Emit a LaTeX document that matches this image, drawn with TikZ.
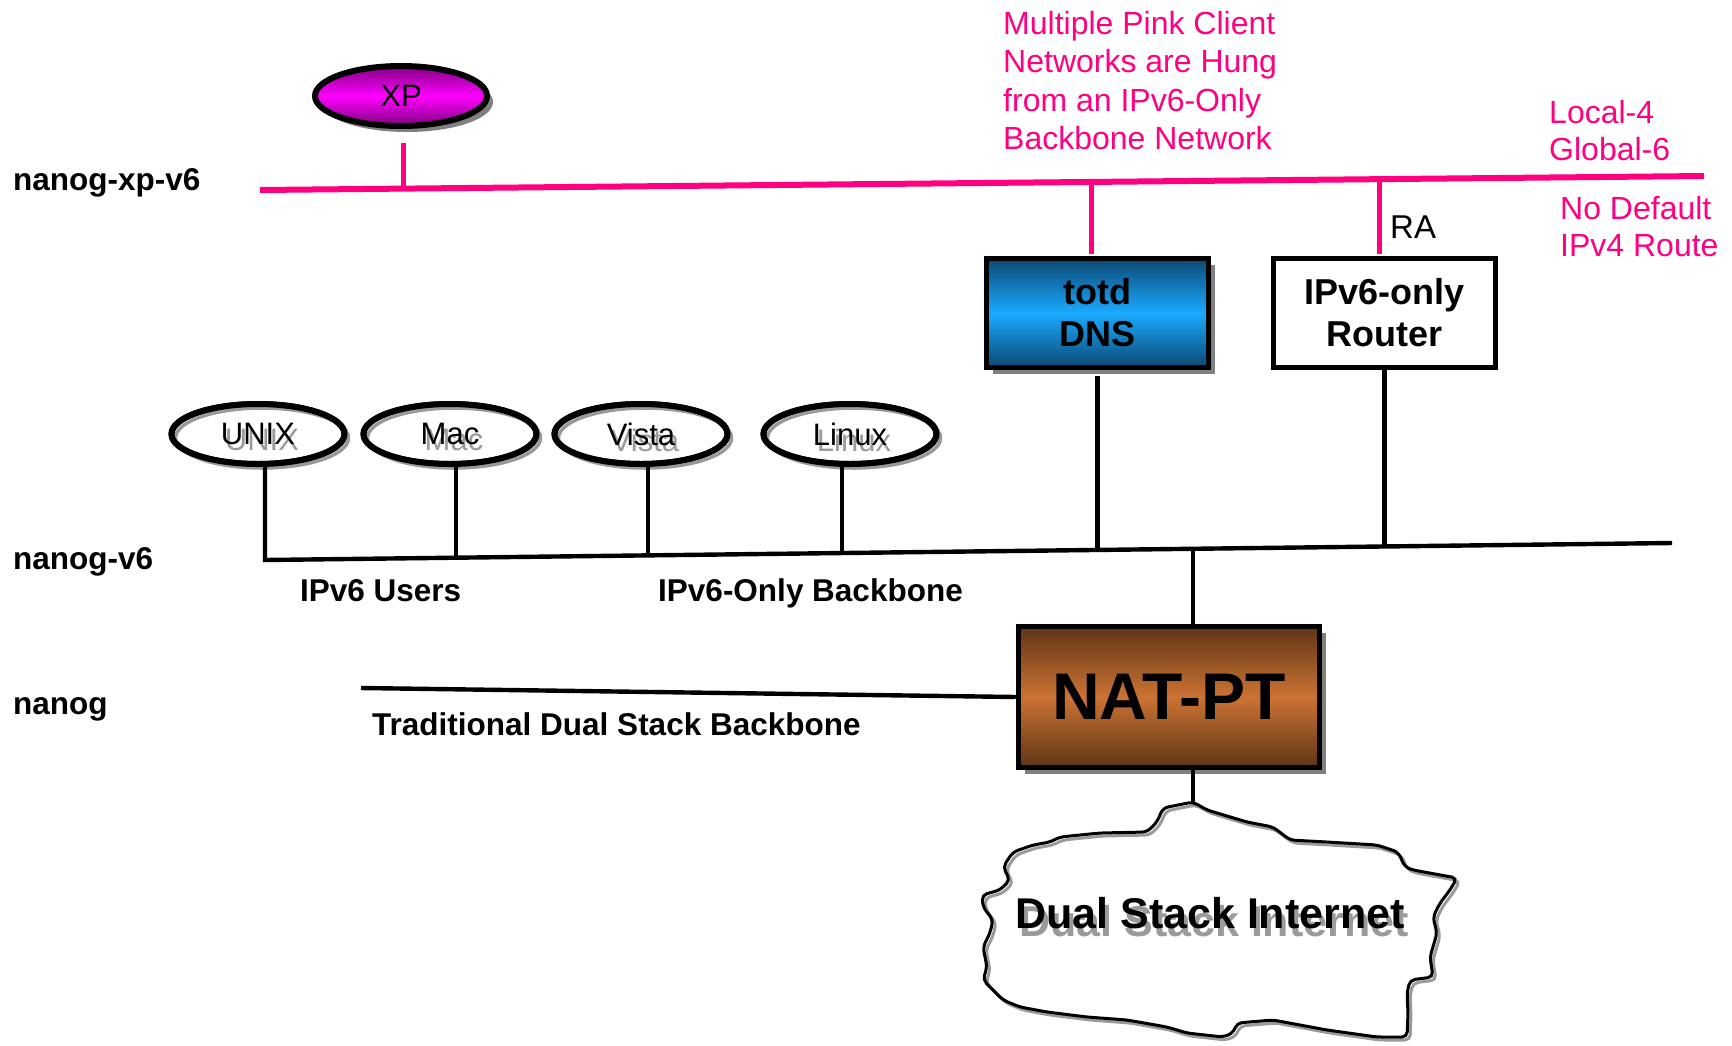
\documentclass[tikz,border=0pt]{standalone}
\usepackage{fontspec}
\setmainfont{Liberation Sans}
\usetikzlibrary{shapes.geometric,shadows,calc}
\definecolor{netpink}{RGB}{255,0,128}
\definecolor{blueD}{RGB}{12,72,115}
\definecolor{blueL}{RGB}{26,170,255}
\definecolor{orD}{RGB}{94,52,22}
\definecolor{orL}{RGB}{204,115,51}
\definecolor{magD}{RGB}{128,0,128}
\definecolor{magL}{RGB}{255,0,255}
\definecolor{shgray}{RGB}{128,128,128}
\newcommand\cloudoutline{(1163,808) -- (1193,802) -- (1207,810) -- (1247,822) -- (1273,827) -- (1290,840) -- (1327,842) -- (1377,845) -- (1398,852) -- (1405,867) -- (1413,870) -- (1457,878) -- (1450,890) -- (1440,903) -- (1433,917) -- (1437,933) -- (1430,957) -- (1433,977) -- (1410,980) -- (1407,993) -- (1408,1013) -- (1407,1037) -- (1377,1037) -- (1327,1030) -- (1273,1020) -- (1237,1023) -- (1233,1033) -- (1223,1037) -- (1187,1033) -- (1167,1027) -- (1127,1020) -- (1087,1017) -- (1047,1012) -- (1020,1007) -- (1003,1000) -- (993,990) -- (983,980) -- (987,967) -- (983,947) -- (990,933) -- (993,920) -- (983,907) -- (982,895) -- (1000,890) -- (1010,880) -- (1003,867) -- (1013,852) -- (1033,845) -- (1050,842) -- (1060,837) -- (1100,833) -- (1147,832) -- (1157,822) -- cycle}
\begin{document}
\begin{tikzpicture}[x=1pt,y=-1pt,
  wire/.style={line width=4.4pt,draw=black},
  pwire/.style={line width=6pt,draw=netpink},
  pstub/.style={line width=5pt,draw=netpink},
  lbl/.style={font=\fontsize{31.5}{37}\selectfont\bfseries, inner sep=0pt, anchor=base west},
  ptxt/.style={font=\fontsize{32}{38.5}\selectfont, text=netpink, align=left, inner sep=0pt, anchor=north west},
  host/.style={ellipse, fill=white, draw=black, line width=6pt, minimum width=173pt, minimum height=60pt, inner sep=0pt,
     postaction={draw=shgray!80, line width=3.5pt, transform canvas={shift={(4pt,-4pt)}}},
     postaction={draw=black, line width=6pt}},
  htxt/.style={font=\fontsize{31}{37}\selectfont, inner sep=0pt},
  hshtxt/.style={font=\fontsize{31}{37}\selectfont, inner sep=0pt, text=shgray!80},
  boxstyle/.style={rectangle, draw=black, line width=5.5pt, minimum width=222pt, minimum height=109pt, inner sep=0pt, align=center, font=\fontsize{36}{42}\selectfont\bfseries},
  shad/.style={drop shadow={shadow xshift=6pt, shadow yshift=-6pt, fill=shgray, opacity=1}},
]
\useasboundingbox (0,0) rectangle (1732,1045);

% ---- coordinates on the network lines
\coordinate (pL) at (260,190);
\coordinate (pR) at (1704,176);
\coordinate (pXP) at (403,188.6);
\coordinate (pT) at (1091,181.9);
\coordinate (pRt) at (1379,179.2);
\coordinate (vL) at (265,560);
\coordinate (vR) at (1672,543);
\coordinate (qMac) at (456,557.7);
\coordinate (qVis) at (648,555.4);
\coordinate (qLin) at (842,553);
\coordinate (qT) at (1097.5,549.9);
\coordinate (qN) at (1193,548.8);
\coordinate (qR) at (1384.5,546.5);
\coordinate (nL) at (361,688);
\coordinate (cloudtop) at (1193,803);

% ---- cloud
\fill[white] \cloudoutline;
\draw[shgray!80, line width=3pt, rounded corners=5pt, xshift=3pt, yshift=-3pt] \cloudoutline;
\draw[black, line width=3pt, rounded corners=5pt] \cloudoutline;
\node[font=\fontsize{43}{50}\selectfont\bfseries, text=shgray!80, inner sep=0pt] (cloudsh) at (1214,921) {Dual Stack Internet};
\node[font=\fontsize{43}{50}\selectfont\bfseries, inner sep=0pt] (cloudtxt) at (1210,913) {Dual Stack Internet};

% ---- nodes
\node[ellipse, draw=black, line width=6pt, minimum width=172pt, minimum height=60pt, inner sep=0pt,
      top color=magD, bottom color=magD, middle color=magL, shad,
      font=\fontsize{31}{37}\selectfont] (xp) at (401,96) {XP};

\node[boxstyle, shad, top color=blueD, bottom color=blueD, middle color=blueL] (totd) at (1097.5,313) {totd\\DNS};
\node[boxstyle, fill=white] (router) at (1384.5,313) {IPv6-only\\Router};
\node[boxstyle, shad, minimum width=301pt, minimum height=141pt, font=\fontsize{66}{74}\selectfont\bfseries,
      top color=orD, bottom color=orD, middle color=orL] (nat) at (1169,697) {NAT-PT};

\node[host] (unix) at (258,434) {};
\node[host] (mac) at (450,434) {};
\node[host] (vista) at (641,434) {};
\node[host] (linux) at (850,434) {};
\node[hshtxt] (unixs) at ($(unix)+(4,6)$) {UNIX};
\node[htxt] (unixt) at (unix) {UNIX};
\node[hshtxt] (macs) at ($(mac)+(4,6)$) {Mac};
\node[htxt] (mact) at (mac) {Mac};
\node[hshtxt] (vistas) at ($(vista)+(4,6)$) {Vista};
\node[htxt] (vistat) at (vista) {Vista};
\node[hshtxt] (linuxs) at ($(linux)+(4,6)$) {Linux};
\node[htxt] (linuxt) at (linux) {Linux};

% ---- pink network
\draw[pwire] (pL) -- (pR);
\draw[pstub] ([yshift=-14pt]xp.south -| pXP) -- (pXP);
\draw[pstub] (pT) -- ([yshift=2pt]pT |- totd.north);
\draw[pstub] (pRt) -- ([yshift=2pt]pRt |- router.north);

% ---- black networks
\draw[wire] (unix.south -| vL) -- (vL) -- (vR);
\draw[wire] (mac.south -| qMac) -- (qMac);
\draw[wire] (vista.south -| qVis) -- (qVis);
\draw[wire] (linux.south -| qLin) -- (qLin);
\draw[wire] ([yshift=-6pt]totd.south) -- (qT);
\draw[wire] (router.south) -- (qR);
\draw[wire] (qN) -- (qN |- nat.north);
\draw[wire] (nL) -- (nat.west);
\draw[wire] (nat.south -| cloudtop) -- (cloudtop);

% ---- labels
\node[lbl] (lxp) at (13,190) {nanog-xp-v6};
\node[lbl] (lv6) at (13,569) {nanog-v6};
\node[lbl] (ln) at (13,714) {nanog};
\node[lbl] (lusers) at (300,601) {IPv6 Users};
\node[lbl] (lbb) at (658,601) {IPv6-Only Backbone};
\node[lbl] (ltrad) at (372,735) {Traditional Dual Stack Backbone};
\node[font=\fontsize{33}{40}\selectfont, inner sep=0pt, anchor=base west] (ra) at (1390,238) {RA};

\node[ptxt] (pmsg) at (1003,11) {Multiple Pink Client\\Networks are Hung\\from an IPv6-Only\\Backbone Network};
\node[ptxt, font=\fontsize{32}{37}\selectfont] (ploc) at (1549,100) {Local-4\\Global-6};
\node[ptxt, font=\fontsize{32}{37}\selectfont] (pnod) at (1560,196) {No Default\\IPv4 Route};
\end{tikzpicture}
\end{document}
